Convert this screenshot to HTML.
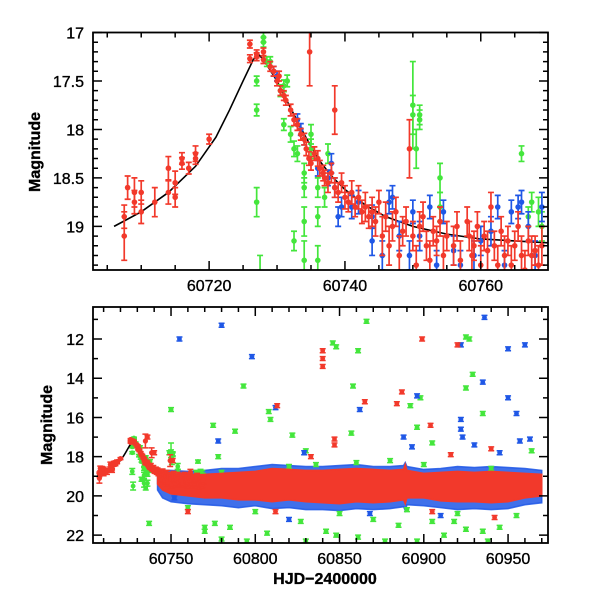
<!DOCTYPE html>
<html><head><meta charset="utf-8"><style>
html,body{margin:0;padding:0;background:#fff}
svg{display:block}
text{font-family:"Liberation Sans",sans-serif;font-size:16px;fill:#000;stroke:#000;stroke-width:0.35}
</style></head><body>
<svg id="chart" width="600" height="600" viewBox="0 0 600 600">
<defs>
<clipPath id="clipTop"><rect x="93" y="32.5" width="455" height="237.5"/></clipPath>
<clipPath id="clipBot"><rect x="93" y="307" width="455" height="236"/></clipPath>
</defs>
<g id="topPanel"></g>
<g id="botPanel"></g>
</svg>
<script>
// ---- data ----
const curveX=[60706,60710,60714,60718,60721,60723,60725,60726.5,60727.2,60728,60730,60732,60734,60736,60738,60740,60743,60746,60750,60755,60760,60765,60770];
const curveY=[19.0,18.85,18.65,18.38,18.08,17.8,17.5,17.28,17.22,17.28,17.5,17.78,18.05,18.3,18.48,18.62,18.78,18.9,19.0,19.08,19.13,19.15,19.17];

const redX=[60707.5,60707.5,60708,60709,60709,60710,60710,60712,60714,60714,60715,60715,60716,60716,60717,60718,60718,60720,
60726,60726,60727,60727,60728,60728,
60729,60729.5,60730,60730.3,60730.5,60731,60731.3,60732,60732.5,60733,60733.5,60734,60734.3,60734.7,60734.8,60735,60735.5,60736,60736.3,60736.8,60737,60737.5,60738,60738.5,60738.5,60739,60739.5,60740,60740.5,60741,60741.5,60742,60742.5,60743,60743.5,60744,60744.5,60745,60745.5,60746,60746.5,60747,60747.5,60748,60748.5,60749,60749.5,60750,60750.5,60751,60751.5,60752,60752.5,60753,60753.5,60754,60754.5,60755,60756,60756.5,60757,60758,60758.3,60758.7,60759,60759.5,60760,60760.5,60761,60761.5,60762,60762.5,60763,60763.5,60764,60764.5,60765,60765.5,60766,60766.5,60767,60767.5,60768,60768.5,60769];
const redY=[18.9,19.1,18.6,18.65,18.75,18.85,18.65,18.75,18.4,18.65,18.55,18.7,18.3,18.35,18.4,18.25,18.3,18.1,
17.12,17.27,17.25,17.22,17.2,17.28,
17.35,17.4,17.5,17.45,17.6,17.65,17.7,17.8,17.9,17.95,18.05,18.1,18.2,18.3,17.2,18.35,18.25,18.3,18.4,18.45,18.5,18.55,18.45,17.8,18.6,18.65,18.55,18.7,18.75,18.65,18.8,18.7,18.85,18.8,18.9,18.85,18.95,18.75,19.1,18.9,19.2,19.0,18.85,19.3,19.05,18.95,18.2,19.1,19.4,19.0,18.9,19.2,19.35,19.05,19.15,18.95,19.3,19.1,19.2,19.0,19.35,18.95,19.1,19.3,19.2,19.0,19.4,19.1,19.25,18.8,19.2,19.4,19.05,19.3,19.15,19.4,19.2,19.0,19.3,19.45,19.15,19.3,19.25,19.4,19.2];
const redE=[0.12,0.25,0.12,0.15,0.12,0.12,0.12,0.15,0.12,0.12,0.12,0.1,0.06,0.06,0.06,0.08,0.06,0.05,
0.04,0.04,0.04,0.04,0.04,0.04,
0.05,0.05,0.05,0.05,0.05,0.05,0.05,0.06,0.06,0.06,0.06,0.06,0.07,0.07,0.35,0.07,0.07,0.08,0.08,0.08,0.08,0.1,0.1,0.25,0.1,0.1,0.1,0.12,0.1,0.12,0.1,0.12,0.12,0.15,0.12,0.15,0.15,0.12,0.2,0.15,0.2,0.15,0.15,0.2,0.15,0.15,0.3,0.15,0.2,0.15,0.15,0.15,0.2,0.15,0.15,0.15,0.2,0.15,0.2,0.15,0.2,0.15,0.15,0.2,0.15,0.15,0.2,0.15,0.2,0.15,0.15,0.2,0.15,0.2,0.15,0.2,0.15,0.15,0.2,0.2,0.15,0.2,0.15,0.2,0.2];

const blueX=[60729.5,60730,60733,60733.5,60734,60736,60737.5,60738,60738.5,60739,60739.5,60741,60742,60744,60744,60745.5,60746.5,60747,60748,60749.5,60750,60751,60752.5,60753.5,60754.5,60756,60757,60759,60760,60761.5,60762.5,60763.5,60764.5,60765.5,60766,60767,60768,60769];
const blueY=[17.4,17.45,17.9,18.0,18.1,18.4,18.5,18.35,18.6,18.9,18.8,18.8,18.75,18.9,19.15,19.3,18.75,18.7,19.1,19.3,18.85,19.1,18.8,19.4,18.85,19.25,19.4,19.3,19.15,19.05,18.8,19.4,18.85,18.8,18.75,19.0,19.3,18.8];
const blueE=[0.05,0.05,0.06,0.06,0.06,0.08,0.08,0.1,0.1,0.1,0.1,0.12,0.12,0.12,0.15,0.15,0.12,0.12,0.15,0.15,0.12,0.15,0.12,0.15,0.12,0.15,0.15,0.15,0.15,0.15,0.12,0.15,0.12,0.12,0.12,0.15,0.15,0.15];

const greenX=[60727,60727,60727,60727.5,60728,60728,60728.5,60729,60730.5,60731,60731,60731.5,60732,60732.5,60732.5,60733,60734,60734,60734,60734,60735,60735,60736,60736,60736,60737,60737.5,60750,60750,60750.5,60751,60751,60754,60754,60766,60767,60767.5,60768.5,60769];
const greenY=[17.5,17.8,18.75,19.5,17.1,17.05,17.3,17.3,17.6,17.55,17.95,17.5,18.05,18.2,19.15,18.25,18.45,18.6,18.95,19.35,18.2,18.05,18.6,19.35,18.9,18.7,18.25,17.75,17.85,18.2,17.9,17.85,18.5,18.8,18.25,18.9,18.75,18.85,19.0];
const greenE=[0.05,0.06,0.15,0.2,0.05,0.05,0.05,0.05,0.06,0.06,0.06,0.06,0.08,0.08,0.1,0.08,0.1,0.1,0.15,0.2,0.1,0.1,0.1,0.15,0.1,0.1,0.1,0.45,0.2,0.2,0.1,0.1,0.15,0.15,0.08,0.1,0.1,0.15,0.15];

const bandX=[60742,60745,60750,60760,60770,60780,60790,60800,60810,60820,60830,60840,60850,60860,60870,60880,60888,60889,60890,60900,60910,60920,60930,60940,60950,60960,60970];
const redTop=[18.9,18.85,18.9,18.95,18.9,18.85,18.8,18.75,18.6,18.65,18.7,18.7,18.65,18.6,18.65,18.7,18.65,18.4,18.7,18.85,18.8,18.75,18.8,18.75,18.8,18.85,18.9];
const redBot=[19.4,19.7,19.9,20.0,20.1,20.1,20.2,20.2,20.3,20.2,20.3,20.35,20.4,20.3,20.35,20.3,20.2,20.4,20.1,20.1,20.25,20.3,20.3,20.35,20.3,20.1,20.0];
const blueTop=[18.8,18.7,18.7,18.75,18.7,18.6,18.6,18.5,18.4,18.45,18.5,18.5,18.45,18.4,18.5,18.5,18.45,18.3,18.5,18.65,18.6,18.5,18.55,18.5,18.55,18.6,18.7];
const blueBot=[19.7,20.1,20.3,20.4,20.45,20.5,20.6,20.5,20.65,20.6,20.7,20.7,20.75,20.65,20.7,20.65,20.55,20.75,20.45,20.5,20.6,20.7,20.65,20.7,20.65,20.45,20.35];

const gOutX=[60750,60749,60735,60735,60737,60775,60778,60788,60793,60808,60809,60822,60830,60836,60846,60848,60857,60858,60861,60866,60892,60896,60898,60905,60925,60925,60927,60929,60935,60964,60770,60770,60776,60780,60785,60795,60807,60815,60827,60830,60842,60848,60861,60870,60877,60885,60896,60905,60912,60918,60925,60935,60938,60945,60955,60760,60800,60850,60890,60920,60780,60860,60880,60900,60940,60820,60765];
const gOutY=[15.6,17.8,18.8,19.6,21.4,16.4,18.0,16.7,14.4,15.7,16.1,16.9,17.7,18.4,12.2,12.4,16.8,14.4,12.6,11.1,15.4,16.5,15.0,17.3,14.5,11.9,12.0,13.8,15.8,17.7,21.6,21.8,21.4,22.2,21.6,22.3,21.9,22.5,21.3,22.3,21.8,22.0,22.1,21.2,22.3,21.5,22.3,21.3,22.0,21.3,21.7,21.8,22.3,21.6,21.0,20.6,20.8,20.9,20.7,20.9,18.8,18.3,18.2,18.4,18.6,18.5,18.8];
const bOutX=[60755,60780,60798,60812,60778,60829,60862,60888,60893,60896,60922,60922,60922,60923,60930,60935,60936,60950,60950,60955,60960,60963,60957,60945,60820,60752,60868,60910];
const bOutY=[12.0,11.3,12.9,15.5,17.2,17.8,15.6,17.0,17.5,14.9,16.1,16.6,12.3,17.0,17.4,14.2,10.9,12.5,15.0,15.8,12.3,17.1,17.2,17.8,21.2,20.1,20.9,21.0];
const rOutX=[60736,60740,60751,60813,60840,60840,60840,60847,60847,60865,60884,60887,60899,60904,60920,60916,60940,60760,60812,60833,60942,60905];
const rOutY=[17.0,17.8,18.2,15.4,12.6,13.0,13.4,17.4,17.1,15.2,15.3,14.7,12.0,16.4,12.3,17.9,17.6,20.8,20.8,18.0,21.1,20.8];

const topXTicks=[60720,60740,60760];
const topYTicks=[17,17.5,18,18.5,19];
const topYLabels=["17","17.5","18","18.5","19"];
const botXTicks=[60750,60800,60850,60900,60950];
const botYTicks=[12,14,16,18,20,22];

// ---- rendering ----
const NS="http://www.w3.org/2000/svg";
const RED="#f2392b",BLUE="#1f57e6",GREEN="#44e63c";
function mk(tag,attrs,parent){const e=document.createElementNS(NS,tag);for(const k in attrs)e.setAttribute(k,attrs[k]);parent.appendChild(e);return e;}
function lin(d0,d1,r0,r1){return v=>r0+(v-d0)*(r1-r0)/(d1-d0);}

const TP={x0:93,x1:548,y0:32.5,y1:270};
const BP={x0:93,x1:548,y0:307,y1:543};
const txS=lin(60702.9,60769.9,TP.x0,TP.x1), tyS=lin(17,19.45,TP.y0,TP.y1);
const bxS=lin(60703.7,60973.7,BP.x0,BP.x1), byS=lin(10.37,22.4,BP.y0,BP.y1);

const topG=document.getElementById('topPanel'), botG=document.getElementById('botPanel');
const topClip=mk('g',{'clip-path':'url(#clipTop)'},topG);
const botClip=mk('g',{'clip-path':'url(#clipBot)'},botG);

function series(g,X,Y,E,color,xs,ys,r,name,sw){
  const sg=mk('g',{},g);
  
  
  const n=Math.min(X.length,Y.length);
  for(let i=0;i<n;i++){
    const x=xs(X[i]),y=ys(Y[i]),e=(E&&E[i]!==undefined)?E[i]:0.1;
    const ya=ys(Y[i]-e),yb=ys(Y[i]+e);
    const p=mk('path',{d:`M${x},${ya}V${yb}M${x-3},${ya}H${x+3}M${x-3},${yb}H${x+3}`,stroke:color,'stroke-width':sw,fill:'none'},sg);
    
    
    const c=mk('circle',{cx:x,cy:y,r:r,fill:color},sg);
    
    
  }
}
function band(g,X,Tp,Bt,color,xs,ys,name,op){
  let d='M'+X.map((v,i)=>xs(v)+','+ys(Tp[i])).join('L');
  d+='L'+X.slice().reverse().map((v,i)=>xs(v)+','+ys(Bt[X.length-1-i])).join('L')+'Z';
  const p=mk('path',{d:d,fill:color,stroke:color,'stroke-width':1.5,'fill-opacity':op,'stroke-opacity':op},g);
  
  
}
function curve(g,xs,ys,name){
  const p=mk('path',{d:'M'+curveX.map((v,i)=>xs(v)+','+ys(curveY[i])).join('L'),stroke:'#000','stroke-width':1.6,fill:'none'},g);
  
  
}

curve(topClip,txS,tyS,'fit-curve');
series(topClip,greenX,greenY,greenE,GREEN,txS,tyS,2.8,'green-series',1.7);
series(topClip,blueX,blueY,blueE,BLUE,txS,tyS,2.8,'blue-series',1.7);
series(topClip,redX,redY,redE,RED,txS,tyS,2.8,'red-series',1.7);

band(botClip,bandX,blueTop,blueBot,BLUE,bxS,byS,'blue-band',0.85);
series(botClip,gOutX,gOutY,null,GREEN,bxS,byS,2.4,'green-outliers',1.5);
series(botClip,bOutX,bOutY,null,BLUE,bxS,byS,2.4,'blue-outliers',1.5);
series(botClip,greenX,greenY,greenE,GREEN,bxS,byS,2.4,'green-early',1.5);
band(botClip,bandX,redTop,redBot,RED,bxS,byS,'red-band',1);
curve(botClip,bxS,byS,'fit-curve-bottom');
series(botClip,redX,redY,redE,RED,bxS,byS,2.6,'red-early',1.5);
series(botClip,rOutX,rOutY,null,RED,bxS,byS,2.4,'red-outliers',1.5);

function frame(g,P,xs,ys,xMaj,xMin,xStart,xEnd,yMaj,yMin,yStart,yEnd,pre){
  const f=mk('rect',{x:P.x0,y:P.y0,width:P.x1-P.x0,height:P.y1-P.y0,fill:'none',stroke:'#000','stroke-width':1.8},g);
  
  
  let d='';
  for(let v=xStart;v<=xEnd;v+=xMin){const x=xs(v);if(x<P.x0||x>P.x1)continue;const L=(Math.abs(v/xMaj-Math.round(v/xMaj))<1e-6)?9:5;d+=`M${x},${P.y1}v${-L}M${x},${P.y0}v${L}`;}
  const ny=Math.round((yEnd-yStart)/yMin);
  for(let k=0;k<=ny;k++){const v=yStart+k*yMin;const y=ys(v);if(y<P.y0-0.5||y>P.y1)continue;const L=(yMaj.some(t=>Math.abs(t-v)<1e-6))?9:5;d+=`M${P.x0},${y}h${L}M${P.x1},${y}h${-L}`;}
  const t=mk('path',{d:d,stroke:'#000','stroke-width':1.5,fill:'none'},g);
  
  
}
frame(topG,TP,txS,tyS,20,5,60705,60770,topYTicks,0.1,17,19.5,'top');
frame(botG,BP,bxS,byS,50,10,60710,60970,botYTicks,1,11,22,'bottom');

topXTicks.forEach(v=>{const t=mk('text',{x:txS(v),y:TP.y1+21,'text-anchor':'middle'},topG);t.textContent=v;
  });
topYTicks.forEach((v,i)=>{const t=mk('text',{x:84,y:tyS(v)+6,'text-anchor':'end'},topG);t.textContent=topYLabels[i];
  });
botXTicks.forEach(v=>{const t=mk('text',{x:bxS(v),y:BP.y1+21,'text-anchor':'middle'},botG);t.textContent=v;
  });
botYTicks.forEach(v=>{const t=mk('text',{x:84,y:byS(v)+6,'text-anchor':'end'},botG);t.textContent=v;
  });

const yt1=mk('text',{x:0,y:0,transform:'translate(40,152) rotate(-90)','text-anchor':'middle','font-size':'15','font-weight':'bold','stroke-width':'0'},topG);
yt1.textContent='Magnitude';


const yt2=mk('text',{x:0,y:0,transform:'translate(52,425) rotate(-90)','text-anchor':'middle','font-size':'15','font-weight':'bold','stroke-width':'0'},botG);
yt2.textContent='Magnitude';


const xt=mk('text',{x:325,y:584,'text-anchor':'middle','font-family':'Liberation Serif','font-size':'17','font-weight':'bold','stroke-width':'0'},botG);
xt.textContent='HJD\u22122400000';


</script>
</body></html>
